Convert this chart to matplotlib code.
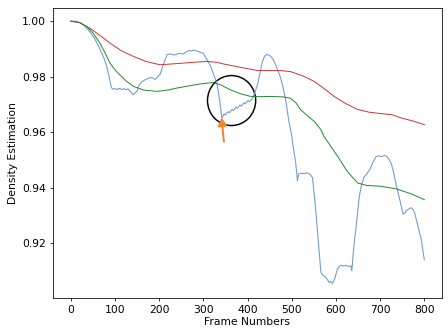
import matplotlib
matplotlib.use("Agg")
import matplotlib.pyplot as plt
from matplotlib.patches import Ellipse

plt.rcParams["font.size"] = 11

blue_x = [0, 10, 20, 30, 43, 55, 66, 75, 81, 87, 92, 95, 100, 105, 110, 115, 120, 125, 130, 136, 141, 146, 150, 155, 161, 170, 180, 186, 191, 197, 202, 210, 218, 225, 235, 245, 255, 262, 268, 272, 278, 285, 293, 300, 308, 316, 324, 331, 337, 342, 347, 350, 356, 359, 365, 368, 374, 377, 383, 386, 392, 395, 401, 404, 411, 416, 422, 428, 433, 438, 443, 448, 452, 458, 463, 468, 474, 480, 486, 494, 499, 504, 509, 513, 516, 522, 528, 534, 540, 543, 547, 552, 558, 562, 566, 570, 573, 577, 581, 585, 588, 592, 597, 603, 607, 611, 617, 623, 629, 634, 636, 640, 645, 649, 653, 658, 664, 668, 672, 678, 685, 691, 697, 703, 709, 714, 719, 725, 730, 736, 744, 752, 756, 759, 764, 770, 774, 778, 785, 793, 800]
blue_y = [1.000, 1.000, 0.9995, 0.9985, 0.9962, 0.9935, 0.990, 0.9868, 0.9840, 0.9800, 0.9762, 0.9755, 0.9757, 0.9754, 0.9758, 0.9754, 0.9757, 0.9753, 0.9756, 0.9745, 0.9735, 0.9742, 0.9748, 0.9770, 0.9782, 0.9790, 0.9797, 0.9795, 0.9790, 0.9800, 0.9808, 0.9845, 0.9880, 0.9882, 0.9878, 0.9884, 0.9882, 0.9890, 0.9895, 0.9892, 0.9896, 0.9893, 0.9888, 0.9885, 0.9862, 0.9840, 0.9805, 0.9775, 0.9715, 0.9650, 0.9666, 0.9662, 0.9674, 0.9670, 0.9682, 0.9678, 0.9690, 0.9686, 0.9698, 0.9694, 0.9706, 0.9702, 0.9714, 0.9710, 0.9720, 0.9740, 0.9768, 0.9810, 0.9850, 0.9872, 0.9880, 0.9878, 0.9874, 0.9862, 0.9845, 0.9825, 0.9800, 0.9765, 0.9720, 0.9635, 0.9598, 0.9540, 0.9490, 0.9425, 0.9450, 0.9452, 0.9450, 0.9454, 0.9450, 0.9445, 0.9436, 0.9360, 0.9250, 0.9170, 0.9095, 0.9085, 0.9082, 0.9078, 0.9068, 0.9058, 0.9062, 0.9055, 0.9070, 0.9105, 0.9115, 0.9120, 0.9118, 0.9120, 0.9116, 0.9118, 0.9100, 0.9180, 0.9250, 0.9310, 0.9370, 0.9410, 0.9440, 0.9445, 0.9455, 0.9470, 0.9495, 0.9512, 0.9515, 0.9512, 0.9516, 0.9514, 0.9505, 0.9488, 0.9460, 0.9412, 0.9360, 0.9305, 0.9308, 0.9318, 0.9322, 0.9328, 0.9322, 0.9310, 0.9265, 0.9213, 0.9140]

red_x = [0, 20, 43, 65, 89, 115, 142, 170, 202, 230, 255, 280, 308, 330, 348, 380, 423, 450, 476, 498, 525, 551, 575, 596, 620, 649, 675, 702, 727, 748, 775, 800]
red_y = [1.0, 0.9995, 0.9975, 0.9950, 0.9921, 0.9893, 0.9873, 0.9855, 0.9843, 0.9846, 0.9849, 0.9852, 0.9855, 0.9852, 0.9845, 0.9835, 0.9822, 0.9822, 0.9822, 0.9818, 0.9803, 0.9783, 0.9755, 0.9729, 0.9705, 0.9682, 0.9672, 0.9667, 0.9663, 0.9651, 0.9640, 0.9627]

green_x = [0, 20, 36, 50, 66, 78, 89, 100, 111, 125, 142, 165, 195, 220, 240, 265, 293, 323, 340, 361, 385, 407, 430, 452, 482, 498, 510, 520, 535, 551, 566, 573, 590, 604, 625, 649, 670, 702, 736, 770, 800]
green_y = [1.0, 0.9995, 0.9981, 0.9958, 0.9921, 0.9885, 0.9849, 0.9825, 0.9807, 0.9785, 0.9765, 0.9752, 0.9747, 0.9752, 0.9759, 0.9766, 0.9774, 0.9779, 0.9770, 0.9753, 0.9738, 0.9729, 0.9728, 0.9729, 0.9727, 0.9722, 0.9705, 0.9681, 0.9660, 0.9639, 0.9609, 0.9585, 0.9545, 0.9513, 0.9460, 0.9417, 0.9408, 0.9405, 0.9396, 0.9378, 0.9357]

x_ticks = [0, 100, 200, 300, 400, 500, 600, 700, 800]
y_ticks = [0.92, 0.94, 0.96, 0.98, 1.00]

circle_center = (364, 0.9714)
arrow_tail = (346.6, 0.9566)
arrow_tip = (341.4, 0.9652)

fig = plt.figure(figsize=(6.4, 332 / 70), dpi=70)
ax = fig.add_axes([53 / 448, 34 / 332, (442 - 53) / 448, (298 - 8) / 332])

ax.plot(blue_x, blue_y, color="#6f9bd3", lw=1.1)
ax.plot(red_x, red_y, color="#cc3535", lw=1.0)
ax.plot(green_x, green_y, color="#23882a", lw=1.0)

ax.add_patch(Ellipse(circle_center, width=109, height=0.018, fill=False,
                     edgecolor="black", lw=1.5))
ax.annotate("", xy=arrow_tip, xytext=arrow_tail,
            arrowprops=dict(arrowstyle="-|>,head_length=0.6,head_width=0.35",
                            color="#f5822a", lw=2.0, shrinkA=0, shrinkB=0))

ax.set_xticks(x_ticks)
ax.set_yticks(y_ticks)
ax.set_yticklabels([f"{v:.2f}" for v in y_ticks])
ax.set_xlim(-40, 840)
ax.set_ylim(0.90025, 1.00475)
ax.set_xlabel("Frame Numbers", labelpad=2)
ax.set_ylabel("Density Estimation")

fig.savefig("out.png", dpi=70)
